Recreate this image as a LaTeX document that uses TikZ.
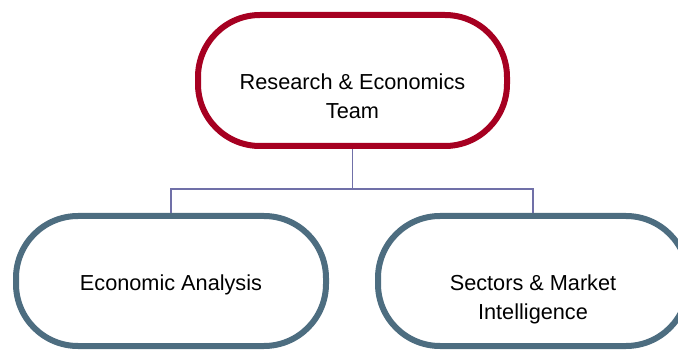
\documentclass[tikz,border=0pt]{standalone}
\usepackage{fontspec}
\setmainfont{Liberation Sans}
\usetikzlibrary{positioning, calc}

\definecolor{teamred}{RGB}{166,0,33}
\definecolor{unitslate}{RGB}{77,109,128}
\definecolor{linkviolet}{RGB}{112,112,168}

\tikzset{
  pill/.style={draw, fill=white, line width=6pt, rounded corners=62pt,
    minimum width=310pt, minimum height=130pt, inner sep=0pt},
  caption/.style={anchor=north, inner sep=0pt, align=center,
    font=\fontsize{21.7}{29}\selectfont},
  link/.style={draw=linkviolet, line width=1.5pt}
}

\begin{document}
\begin{tikzpicture}[x=1pt, y=-1pt]

% page frame
\useasboundingbox (0,0) rectangle (678,350);

% boxes
\node[pill, draw=teamred, minimum width=309pt, minimum height=131pt] (team) at (352.5,80.5) {};
\node[pill, draw=unitslate] (econ) at (171,281) {};
\node[pill, draw=unitslate] (sector) at (533,281) {};

% captions
\node[caption] (teamtxt) at (352.5,74) {Research \& Economics\\Team};
\node[caption] (econtxt) at (171,275) {Economic Analysis};
\node[caption] (sectortxt) at (533,275) {Sectors \& Market\\Intelligence};

% tree lines
\coordinate (bus) at (352.5,189);
\draw[link] (team.south) -- (bus) -| (econ.north);
\draw[link] (bus) -| (sector.north);

\end{tikzpicture}
\end{document}
